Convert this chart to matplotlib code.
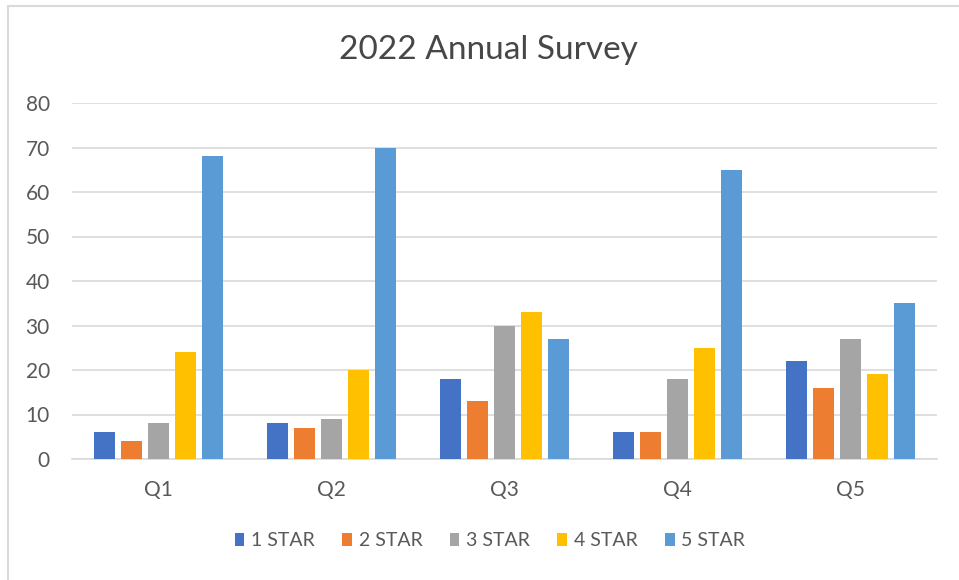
import matplotlib.pyplot as plt
import numpy as np
from matplotlib.patches import Rectangle

plt.rcParams['font.family'] = ['Lato', 'DejaVu Sans']

# survey results per question
questions = ['Q1', 'Q2', 'Q3', 'Q4', 'Q5']
ratings = ['1 STAR', '2 STAR', '3 STAR', '4 STAR', '5 STAR']
one_star = [6, 8, 18, 6, 22]
two_star = [4, 7, 13, 6, 16]
three_star = [8, 9, 30, 18, 27]
four_star = [24, 20, 33, 25, 19]
five_star = [68, 70, 27, 65, 35]
series = [one_star, two_star, three_star, four_star, five_star]
colors = ['#4472C4', '#ED7D31', '#A5A5A5', '#FFC000', '#5B9BD5']

W, H = 959, 580
fig = plt.figure(figsize=(W / 100, H / 100), dpi=100)
ax = fig.add_axes([72 / W, 1 - 459 / H, (937 - 72) / W, (459 - 103) / H])

x = np.arange(len(questions))
step = 0.156
width = 0.116
for i, (vals, lab, col) in enumerate(zip(series, ratings, colors)):
    ax.bar(x + (i - 2) * step, vals, width, color=col, label=lab, zorder=3)

ax.set_xlim(-0.5, len(questions) - 0.5)
ax.set_ylim(0, 80)
ax.set_yticks(range(0, 81, 10))
ax.set_xticks(x)
ax.set_xticklabels(questions)
ax.grid(axis='y', color='#D9D9D9', linewidth=1.2, zorder=0)
for s in ['top', 'right', 'left']:
    ax.spines[s].set_visible(False)
ax.spines['bottom'].set_color('#D9D9D9')
ax.spines['bottom'].set_linewidth(1.2)
ax.tick_params(axis='both', length=0, labelsize=15, labelcolor='#595959')
ax.tick_params(axis='y', pad=16)
ax.tick_params(axis='x', pad=15)

fig.text(488 / W, 1 - 50 / H, '2022 Annual Survey', ha='center', va='center',
         fontsize=24, color='#474747')

fig.legend(loc='center', bbox_to_anchor=(490 / W, 1 - 541 / H), ncol=5,
           frameon=False, fontsize=14, labelcolor='#595959',
           handlelength=0.5, handleheight=0.6, handletextpad=0.35,
           columnspacing=1.4)

# light frame around the chart area
fig.patches.append(Rectangle((8 / W, -0.1), 2, 1.1 - 6 / H, transform=fig.transFigure,
                             fill=False, edgecolor='#D9D9D9', linewidth=1.5))

fig.savefig('out.png', dpi=100)
